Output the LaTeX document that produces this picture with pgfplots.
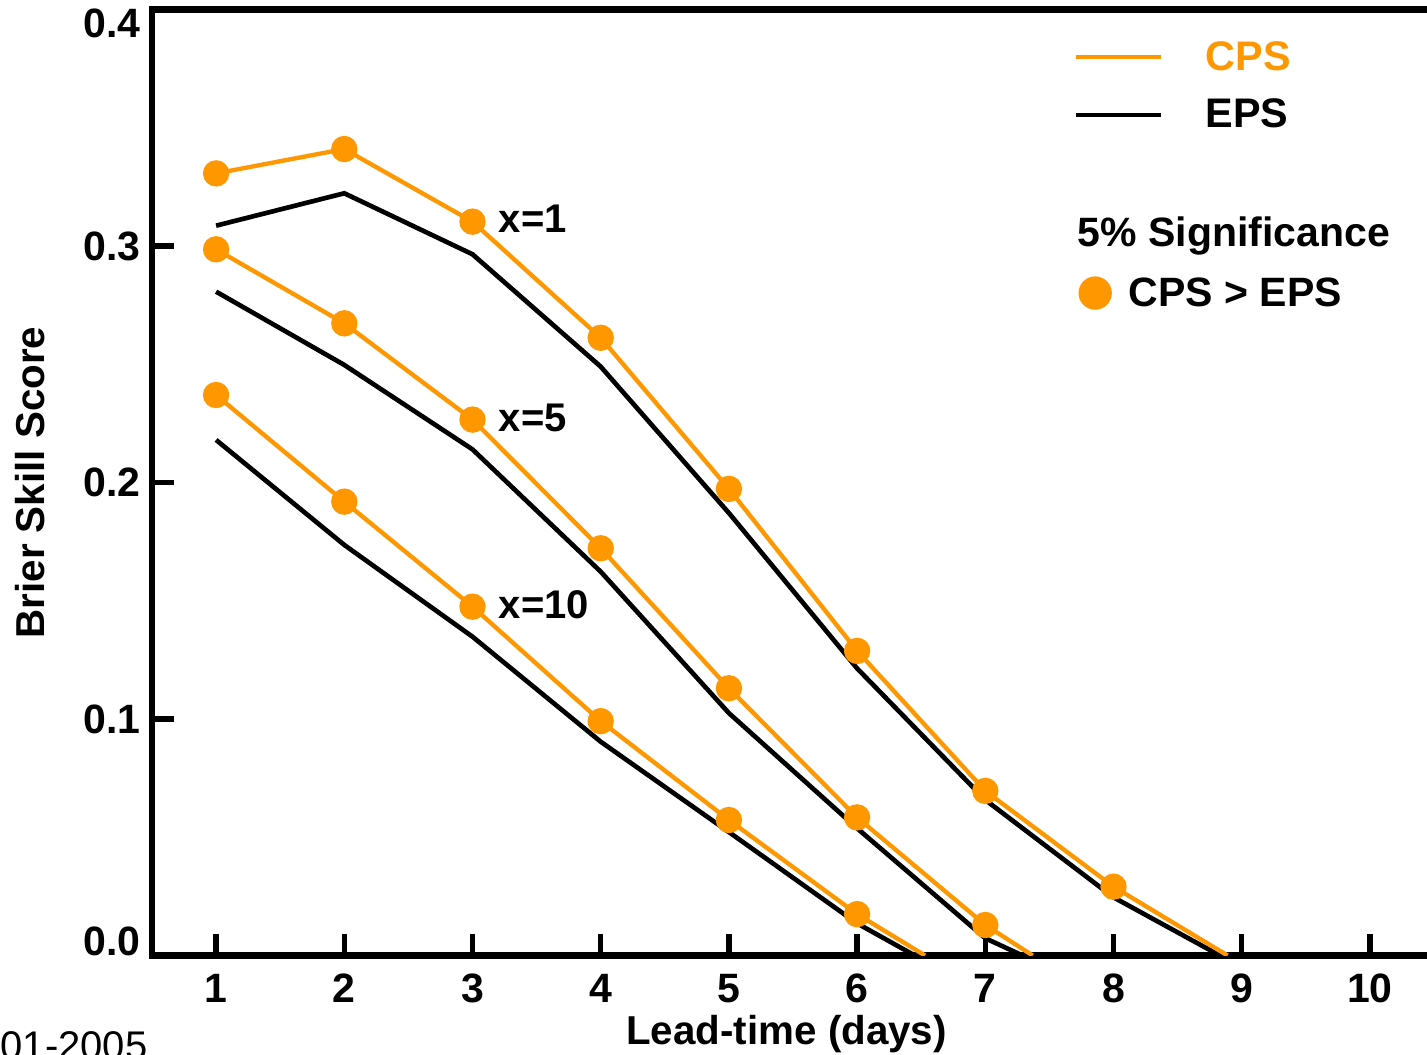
\documentclass[border=0pt]{standalone}
\usepackage{fontspec}
\setmainfont{Liberation Sans}
\usepackage{pgfplots}
\pgfplotsset{compat=1.18}
\definecolor{cpsorange}{RGB}{255,152,0}
\newcommand{\fs}[1]{\fontsize{#1}{#1}\selectfont}
\begin{document}
\begin{tikzpicture}
\begin{axis}[
  scale only axis, width=384.6pt, height=283.8pt,
  xmin=0.5, xmax=10.5, ymin=0, ymax=0.4,
  axis line style={line width=2pt},
  tick style={line width=1.6pt, black},
  major tick length=6.5pt,
  tick align=inside,
  tick pos=left,
  xtick={1,2,3,4,5,6,7,8,9,10},
  ytick={0,0.1,0.2,0.3,0.4},
  yticklabels={{\raisebox{4.2pt}[\height][\depth]{0.0}},0.1,0.2,0.3,{\raisebox{-4.2pt}[\height][\depth]{0.4}}},
  xticklabel style={yshift=-2pt},
  tick label style={font=\bfseries\fs{12.3}},
  /pgf/number format/assume math mode=true,
  clip mode=individual,
]
% EPS (black)
\addplot[black, line width=1.4pt] coordinates {(1,0.3086) (2,0.3223) (3,0.2965) (4,0.2490) (5,0.1871) (6,0.1214) (7,0.0658) (8,0.0246) (8.83,0)};
\addplot[black, line width=1.4pt] coordinates {(1,0.2807) (2,0.2497) (3,0.2140) (4,0.1623) (5,0.1025) (6,0.0538) (7,0.0073) (7.29,0)};
\addplot[black, line width=1.4pt] coordinates {(1,0.2180) (2,0.1736) (3,0.1348) (4,0.0904) (5,0.0522) (6,0.0136) (6.45,0)};
% CPS (orange)
\addplot[cpsorange, line width=1.3pt, mark=*, mark size=3.3pt, mark indices={1,2,3,4,5,6,7,8}] coordinates {(1,0.3307) (2,0.3410) (3,0.3103) (4,0.2612) (5,0.1973) (6,0.1288) (7,0.0696) (8,0.0291) (8.89,0)};
\addplot[cpsorange, line width=1.3pt, mark=*, mark size=3.3pt, mark indices={1,2,3,4,5,6,7}] coordinates {(1,0.2986) (2,0.2673) (3,0.2266) (4,0.1722) (5,0.1130) (6,0.0584) (7,0.0129) (7.37,0)};
\addplot[cpsorange, line width=1.3pt, mark=*, mark size=3.3pt, mark indices={1,2,3,4,5,6}] coordinates {(1,0.2370) (2,0.1919) (3,0.1475) (4,0.0991) (5,0.0573) (6,0.0175) (6.53,0)};
% curve labels
\node[anchor=base west, inner sep=0pt, font=\bfseries\fs{12}] at (axis cs:3.20,0.3055) {x=1};
\node[anchor=base west, inner sep=0pt, font=\bfseries\fs{12}] at (axis cs:3.20,0.2214) {x=5};
\node[anchor=base west, inner sep=0pt, font=\bfseries\fs{12}] at (axis cs:3.20,0.1423) {x=10};
% legend
\draw[cpsorange, line width=1.3pt] (axis cs:7.708,0.3799) -- (axis cs:8.371,0.3799);
\draw[black, line width=1.4pt] (axis cs:7.708,0.3554) -- (axis cs:8.371,0.3554);
\node[anchor=base west, inner sep=0pt, font=\bfseries\fs{12.4}, text=cpsorange] at (axis cs:8.714,0.3744) {CPS};
\node[anchor=base west, inner sep=0pt, font=\bfseries\fs{12.4}] at (axis cs:8.714,0.3502) {EPS};
\node[anchor=base west, inner sep=0pt, font=\bfseries\fs{12.3}] at (axis cs:7.716,0.3000) {5\% Significance};
\addplot[only marks, mark=*, mark size=4.8pt, cpsorange] coordinates {(7.857,0.2801)};
\node[anchor=base west, inner sep=0pt, font=\bfseries\fs{12.3}] at (axis cs:8.114,0.2746) {CPS > EPS};
% axis labels
\node[font=\bfseries\fs{12.1}] at ([yshift=-23.5pt]axis cs:5.45,0) {Lead-time (days)};
\node[font=\bfseries\fs{12.1}, rotate=90] at ([xshift=-36.6pt]rel axis cs:0,0.5) {Brier Skill Score};
\node[anchor=base east, inner sep=0pt, font=\fs{12}] at (axis cs:0.47,-0.0438) {01-2005};
\end{axis}
\pgfresetboundingbox
\useasboundingbox (-45.6pt,-29.55pt) rectangle (382.5pt,286.65pt);
\end{tikzpicture}
\end{document}
